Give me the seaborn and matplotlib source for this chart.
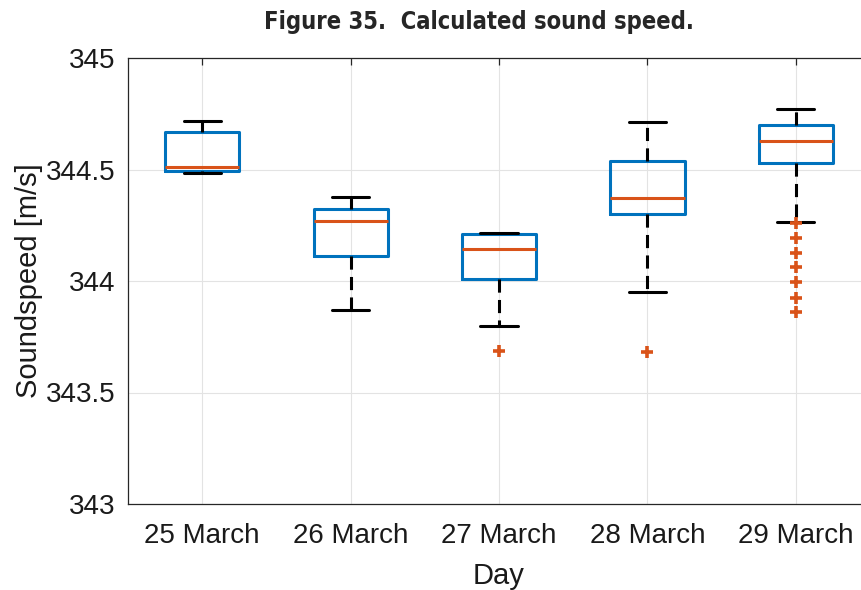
import matplotlib
matplotlib.use("Agg")
import matplotlib.pyplot as plt
import seaborn as sns

# ---------------------------------------------------------------------------
# Dati (statistiche)
# ---------------------------------------------------------------------------

giorni = ["25 March", "26 March", "27 March", "28 March", "29 March"]
mediane = [344.513, 344.269, 344.145, 344.371, 344.629]
q1 = [344.495, 344.112, 344.008, 344.300, 344.531]
q3 = [344.670, 344.321, 344.209, 344.539, 344.701]
baffo_basso = [344.486, 343.869, 343.798, 343.951, 344.266]
baffo_alto = [344.719, 344.378, 344.217, 344.714, 344.771]
outlier = [
    [],
    [],
    [343.686],
    [343.680],
    [344.261, 344.194, 344.126, 344.061, 343.994, 343.925, 343.860],
]

# ---------------------------------------------------------------------------
# Stile
# ---------------------------------------------------------------------------

sns.set_style("whitegrid", {
    "grid.color": "#e3e3e3",
    "axes.edgecolor": "#262626",
    "xtick.direction": "in",
    "ytick.direction": "in",
})
plt.rcParams["font.family"] = ["Liberation Sans", "DejaVu Sans"]

BLU = "#0072BD"
ARANCIO = "#D95319"

fig = plt.figure(figsize=(8.61, 5.90), dpi=100)
ax = fig.add_axes([128 / 861, 1 - 504 / 590, 742 / 861, 446 / 590])

statistiche = []
for i, nome in enumerate(giorni):
    statistiche.append({
        "label": nome,
        "med": mediane[i],
        "q1": q1[i],
        "q3": q3[i],
        "whislo": baffo_basso[i],
        "whishi": baffo_alto[i],
        "fliers": outlier[i],
    })

ax.bxp(
    statistiche,
    positions=range(1, len(giorni) + 1),
    widths=0.5,
    showfliers=True,
    boxprops=dict(color=BLU, linewidth=2.2),
    medianprops=dict(color=ARANCIO, linewidth=2.2),
    whiskerprops=dict(color="black", linewidth=2.2, linestyle=(0, (4.3, 2.4))),
    capprops=dict(color="black", linewidth=2.2),
    capwidths=0.25,
    flierprops=dict(marker="+", markeredgecolor=ARANCIO, markersize=8,
                    markeredgewidth=2.6, linestyle="none"),
)

ax.set_xlim(0.5, 5.5)
ax.set_ylim(343, 345)
ax.set_yticks([343, 343.5, 344, 344.5, 345])
ax.set_yticklabels(["343", "343.5", "344", "344.5", "345"])
ax.set_xticks(range(1, 6))
ax.set_xticklabels(giorni)
ax.grid(True, color="#e3e3e3", linewidth=0.8)
ax.set_axisbelow(True)

for lato in ["left", "bottom", "top", "right"]:
    ax.spines[lato].set_linewidth(0.9)
    ax.spines[lato].set_color("#262626")

ax.tick_params(axis="both", labelsize=20, colors="#262626", labelcolor="#1a1a1a",
               length=5, width=0.9, direction="in", top=True, right=True)
ax.tick_params(axis="x", pad=14)
ax.tick_params(axis="y", pad=9)

ax.set_xlabel("Day", fontsize=21, color="#1a1a1a", labelpad=9)
ax.set_ylabel("Soundspeed [m/s]", fontsize=21, color="#1a1a1a", labelpad=2)

fig.text(0.556, 0.963, "Figure 35.  Calculated sound speed.", ha="center", va="center",
         fontsize=17, fontweight="semibold", fontstretch="condensed",
         family=["DejaVu Sans"])

fig.savefig("out.png", dpi=100)
